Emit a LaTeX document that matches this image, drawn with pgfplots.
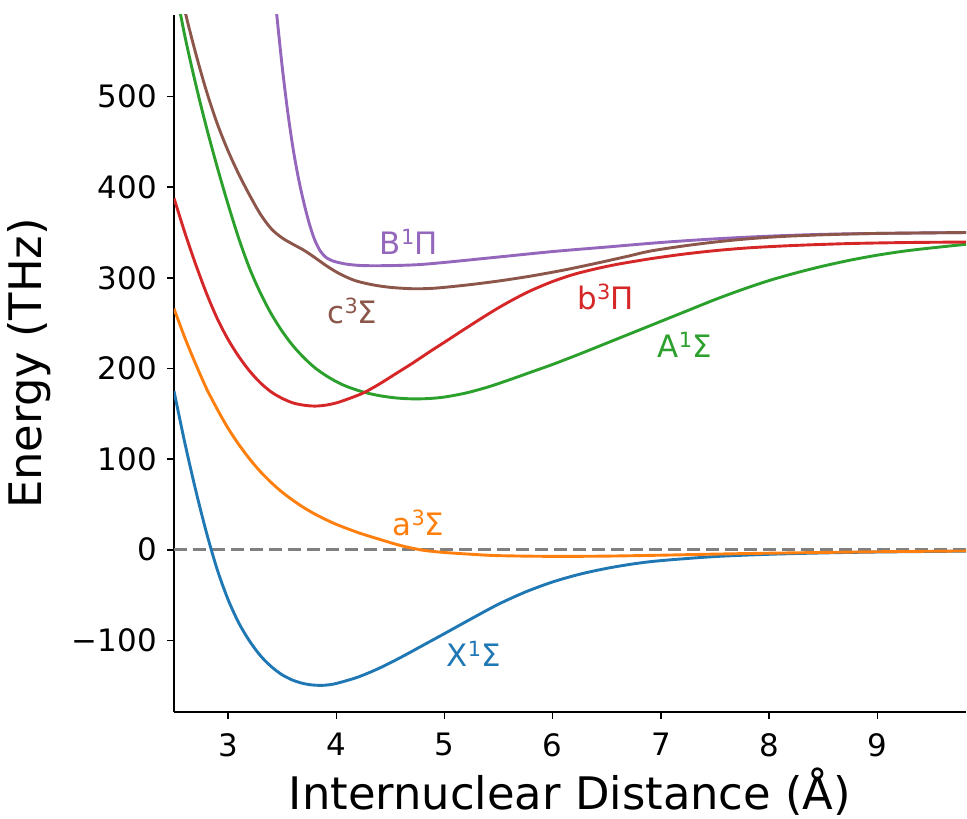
\documentclass[border=0pt]{standalone}
\usepackage{fontspec}
\setmainfont{DejaVu Sans}
\usepackage{pgfplots}
\pgfplotsset{compat=1.18}
\definecolor{tabblue}{HTML}{1F77B4}
\definecolor{taborange}{HTML}{FF7F0E}
\definecolor{tabgreen}{HTML}{2CA02C}
\definecolor{tabred}{HTML}{D62728}
\definecolor{tabpurple}{HTML}{9467BD}
\definecolor{tabbrown}{HTML}{8C564B}
\newcommand{\sups}[1]{\raisebox{10bp}{\fontsize{21}{21}\selectfont #1}}
\begin{document}
\begin{tikzpicture}
\begin{axis}[
  name=ax,
  scale only axis,
  width=792bp, height=697bp,
  xmin=2.5, xmax=9.82, ymin=-179, ymax=590,
  axis lines=left,
  axis line style={-, line width=1.5bp, black},
  tick align=outside,
  major tick length=7bp,
  tick style={line width=1.5bp, black},
  xtick={3,4,5,6,7,8,9},
  ytick={-100,0,100,200,300,400,500},
  yticklabels={−100,0,100,200,300,400,500},
  tick label style={font=\fontsize{31}{31}\selectfont},
  /pgf/number format/assume math mode=true,
  xticklabel style={inner sep=0pt, anchor=north, yshift=-14bp},
  yticklabel style={inner sep=0pt, anchor=east, xshift=-10bp},
  every axis x label/.style={at={(axis description cs:0.5,0)}, anchor=base, yshift=-97bp, font=\fontsize{45}{45}\selectfont},
  every axis y label/.style={at={(axis description cs:-0.1667,0.5)}, rotate=90, anchor=base, font=\fontsize{45}{45}\selectfont},
  xlabel={Internuclear Distance (Å)},
  ylabel={Energy (THz)},
  clip=true,
  every axis plot/.append style={line width=2.9bp},
]
\addplot[color={rgb,255:red,128;green,128;blue,128}, dash pattern=on 13bp off 6bp, line width=2.6bp] coordinates {(2.5,0) (9.82,0)};
% X1Sigma
\addplot[tabblue, smooth] coordinates {
(2.5,175) (2.6,118) (2.7,66) (2.8,19) (2.9,-22) (3.0,-55) (3.1,-81) (3.2,-101) (3.3,-117) (3.4,-129) (3.5,-138) (3.6,-144) (3.7,-147.7) (3.8,-149.4) (3.9,-149.4) (4.0,-147.5) (4.2,-140.5) (4.4,-130.5) (4.6,-118.5) (4.8,-105.5) (5.0,-92.5) (5.25,-76) (5.5,-60) (5.75,-46.5) (6.0,-35.5) (6.25,-27) (6.5,-20.5) (6.75,-15.5) (7.0,-12) (7.5,-7.5) (8.0,-5) (8.5,-3.5) (9.0,-2.5) (9.82,-1.5)};
% a3Sigma
\addplot[taborange, smooth] coordinates {
(2.5,266) (2.6,234) (2.7,205) (2.8,178) (2.9,155) (3.0,134) (3.1,116) (3.2,100) (3.3,86) (3.4,74) (3.5,63.5) (3.6,54.5) (3.7,46.5) (3.8,39.5) (3.9,33.5) (4.0,28) (4.2,19) (4.4,11.5) (4.6,4.5) (4.8,-0.5) (5.0,-3) (5.25,-5) (5.5,-6.5) (6.0,-7.3) (6.5,-7) (7.0,-6) (7.5,-4.8) (8.0,-3.8) (9.0,-2.2) (9.82,-1.3)};
% A1Sigma
\addplot[tabgreen, smooth] coordinates {
(2.5,628) (2.6,567) (2.7,514) (2.8,466) (2.9,422) (3.0,381) (3.1,343) (3.2,310) (3.3,283) (3.4,260) (3.5,241) (3.6,225) (3.7,212) (3.8,201) (3.9,192.5) (4.0,185.5) (4.1,180) (4.25,174) (4.4,170) (4.55,167.5) (4.7,166.5) (4.85,166.8) (5.0,168.5) (5.2,173) (5.4,179.5) (5.6,187.5) (5.8,196) (6.0,204.5) (6.25,216) (6.5,228) (6.75,240) (7.0,252) (7.25,264) (7.5,276) (7.75,287) (8.0,297) (8.25,305.5) (8.5,313) (8.75,319.5) (9.0,325) (9.25,329.5) (9.5,333) (9.82,337)};
% b3Pi
\addplot[tabred, smooth] coordinates {
(2.5,388) (2.6,350) (2.7,315) (2.8,283) (2.9,255) (3.0,232) (3.1,213) (3.2,197) (3.3,184) (3.4,174) (3.5,167) (3.6,162) (3.7,159.5) (3.8,158.5) (3.9,159.5) (4.0,162) (4.1,166) (4.25,173) (4.4,183) (4.56,195) (4.7,205.5) (4.87,219) (5.0,229) (5.18,243) (5.35,256) (5.5,267) (5.65,277) (5.8,286) (6.0,296) (6.2,304) (6.4,310) (6.6,315) (6.9,321) (7.2,326) (7.5,330) (7.8,333) (8.1,335) (8.4,336.5) (8.8,338) (9.3,339) (9.82,339.5)};
% B1Pi
\addplot[tabpurple, smooth] coordinates {
(3.40,650) (3.45,590) (3.50,533) (3.55,484) (3.60,443) (3.65,410) (3.70,383) (3.75,360) (3.80,342) (3.85,330) (3.90,323) (3.95,319.5) (4.0,317.5) (4.1,315) (4.25,313.5) (4.5,313.5) (4.75,314.5) (5.0,317) (5.5,323) (6.0,329) (6.5,334) (7.0,339) (7.5,343) (8.0,346) (8.5,348) (9.0,349) (9.82,350)};
% c3Sigma
\addplot[tabbrown, smooth] coordinates {
(2.5,650) (2.6,595) (2.7,548) (2.8,506) (2.9,470) (3.0,440) (3.1,414) (3.2,391) (3.3,370) (3.4,354) (3.5,344) (3.6,337) (3.7,330.5) (3.8,322.5) (3.9,314) (4.0,306.5) (4.1,300.5) (4.2,296) (4.35,292) (4.5,289.5) (4.7,288) (4.9,288.5) (5.2,292) (5.5,296.5) (5.8,302) (6.1,308.5) (6.4,316) (6.7,324) (6.9,329.5) (7.2,335) (7.5,339.5) (7.8,343) (8.1,345.5) (8.5,347.5) (9.0,349) (9.82,350)};
\begin{scope}[every node/.style={inner sep=0pt, anchor=center, font=\fontsize{31}{31}\selectfont}]
\node[text=tabpurple] at (axis cs:4.67,340) {B\sups{1}Π};
\node[text=tabbrown] at (axis cs:4.15,263) {c\sups{3}Σ};
\node[text=tabred] at (axis cs:6.49,279) {b\sups{3}Π};
\node[text=tabgreen] at (axis cs:7.22,226) {A\sups{1}Σ};
\node[text=taborange] at (axis cs:4.76,30) {a\sups{3}Σ};
\node[text=tabblue] at (axis cs:5.27,-115) {X\sups{1}Σ};
\end{scope}
\end{axis}
\useasboundingbox (ax.south west) ++(-174bp,-106bp) rectangle ([shift={(1bp,15bp)}]ax.north east);
\end{tikzpicture}
\end{document}
